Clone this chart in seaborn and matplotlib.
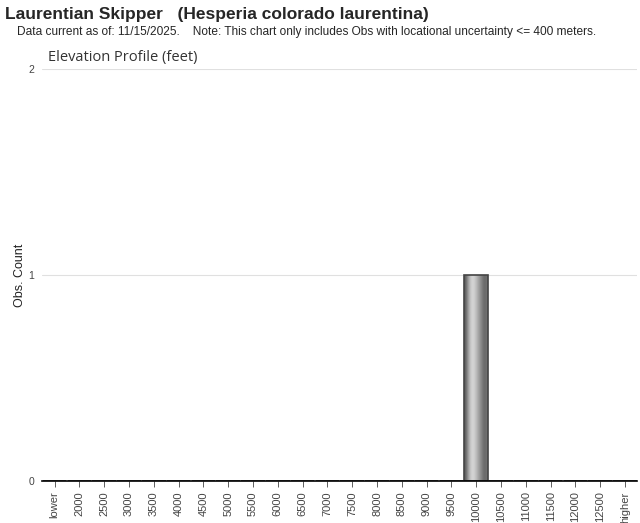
import numpy as np
import pandas as pd
import matplotlib
matplotlib.use("Agg")
import matplotlib.pyplot as plt
import seaborn as sns

# data
elevations = ["lower"] + [str(v) for v in range(2000, 13000, 500)] + ["higher"]
counts = [0] * 17 + [1] + [0] * 6

df = pd.DataFrame({"elevation": elevations, "count": counts})

sns.set_style("white")
plt.rcParams["font.family"] = ["Liberation Sans", "DejaVu Sans"]

fig = plt.figure(figsize=(6.4, 5.23), dpi=100)
ax = fig.add_axes([0.066, 0.0803, 0.93, 0.788])

sns.barplot(data=df, x="elevation", y="count", color="#b0b0b0",
            edgecolor="#444444", linewidth=1.2, width=0.95, ax=ax)

# cylinder-like gradient on the bars
grad = np.array([[0.35, 0.55, 0.75, 0.85, 0.8, 0.7, 0.6, 0.5, 0.4, 0.45]])
for p in ax.patches:
    if p.get_height() <= 0:
        continue
    x0, w, h = p.get_x(), p.get_width(), p.get_height()
    im = ax.imshow(grad, cmap="gray", vmin=0, vmax=1, aspect="auto",
                   extent=[x0, x0 + w, 0, h], zorder=p.get_zorder() + 0.1,
                   interpolation="bicubic")
    im.set_clip_path(p)
    p.set_zorder(p.get_zorder() + 0.2)
    p.set_facecolor("none")

ax.set_xlim(-0.5, len(elevations) - 0.5)
ax.set_ylim(0, 2)
ax.set_yticks([0, 1, 2])
ax.yaxis.grid(True, color="#e0e0e0", linewidth=0.8)
ax.set_axisbelow(True)
for s in ["top", "right", "left"]:
    ax.spines[s].set_visible(False)
ax.spines["bottom"].set_color("black")
ax.spines["bottom"].set_linewidth(1.2)

ax.tick_params(axis="x", rotation=90, labelsize=8, colors="#444444",
               length=4, width=0.6, bottom=True)
ax.tick_params(axis="y", labelsize=7.5, colors="#444444", length=0, pad=6)
ax.set_xlabel("")
ax.set_ylabel("Obs. Count", fontsize=9, color="#222222")
ax.yaxis.set_label_coords(-0.028, 0.5)

fig.text(0.008, 0.972, "Laurentian Skipper   (Hesperia colorado laurentina)",
         fontsize=12.5, fontweight="bold", va="center")
fig.text(0.027, 0.938,
         "Data current as of: 11/15/2025.    Note: This chart only includes Obs with locational uncertainty <= 400 meters.",
         fontsize=8.6, va="center")
fig.text(0.075, 0.89, "Elevation Profile (feet)", fontsize=10.5, color="#333333",
         family=["Open Sans", "DejaVu Sans"], va="center")

fig.savefig("out.png", dpi=100)
